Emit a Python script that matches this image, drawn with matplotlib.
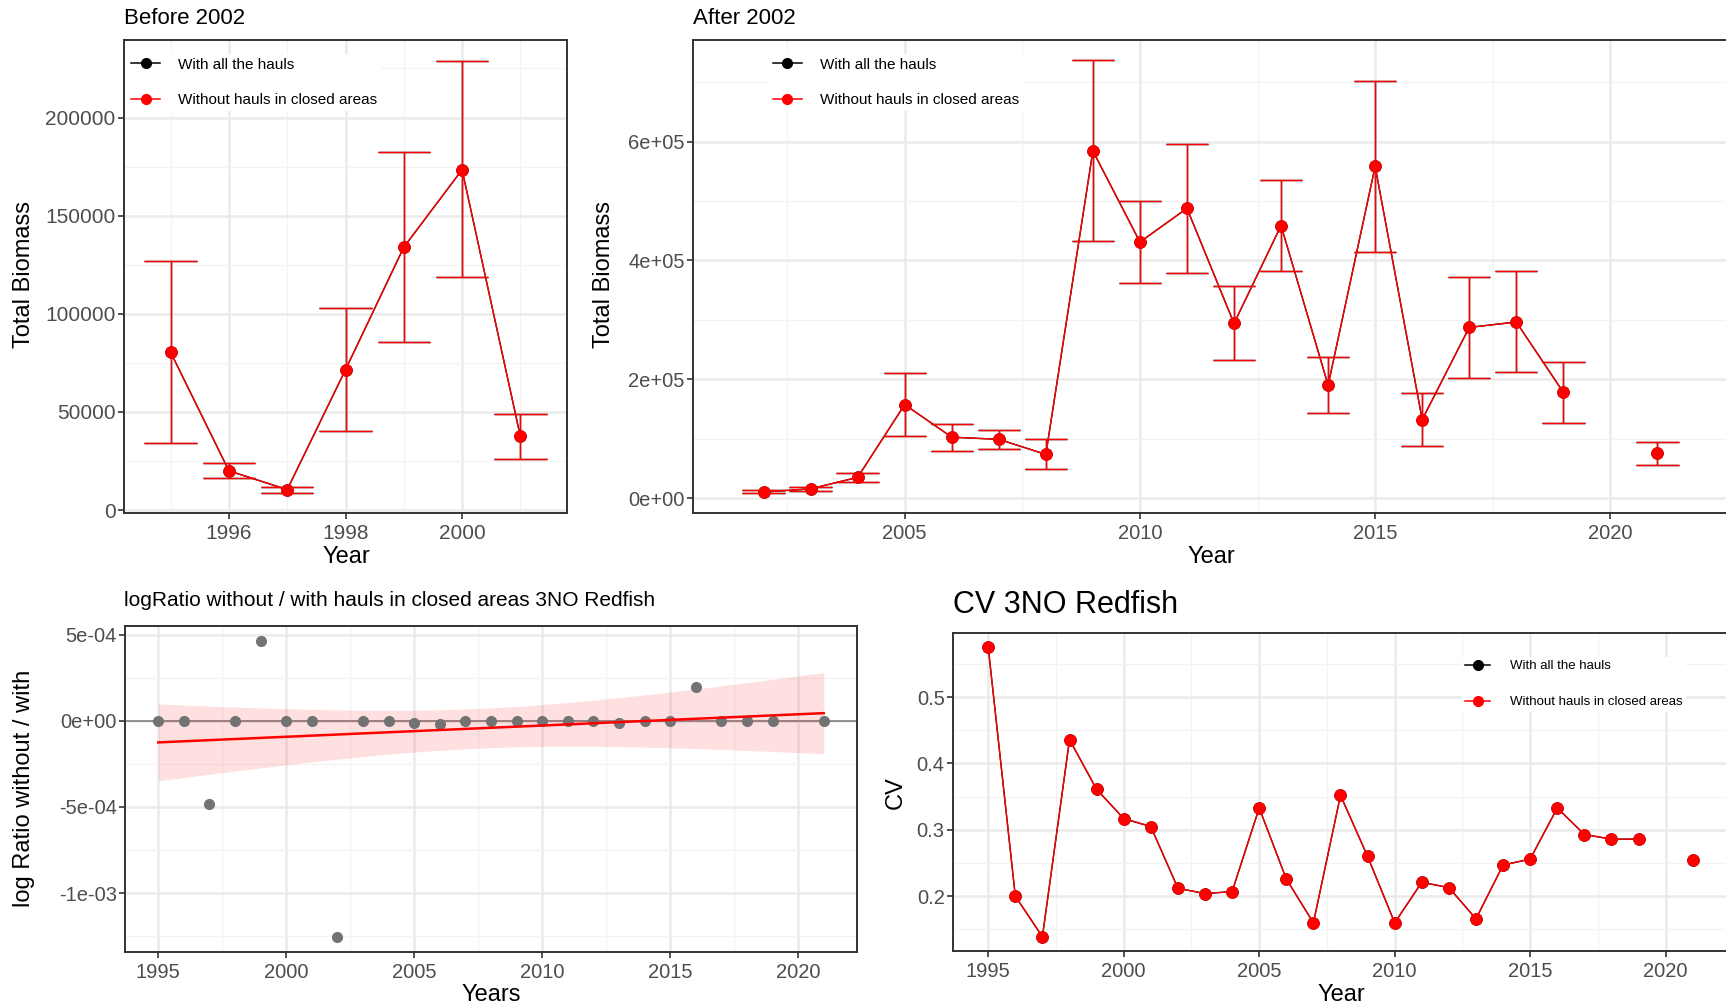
import numpy as np
import matplotlib.pyplot as plt
from matplotlib.lines import Line2D
from matplotlib.ticker import MultipleLocator, FuncFormatter

plt.rcParams['font.family'] = ['Liberation Sans', 'DejaVu Sans']

W, H = 1726, 1008

# --- data ---
years_before = np.arange(1995, 2002)
biomass_before = [80400, 20000, 10400, 71500, 133900, 173400, 37500]
upper_before = [127000, 24000, 11800, 102800, 182500, 228600, 49100]
lower_before = [34400, 16200, 8900, 40400, 85500, 118600, 26000]

years_after = np.arange(2002, 2022)
biomass_after = [10300, 15700, 35000, 157500, 102600, 99000, 73600, 584300, 431000, 487700,
                 294000, 458700, 190100, 558300, 132200, 287300, 296400, 178100, np.nan, 75500]
upper_after = [13300, 19300, 42300, 210700, 125500, 114700, 100200, 737000, 500400, 595800,
               356700, 536000, 237800, 702000, 176300, 372400, 381500, 229400, np.nan, 94200]
lower_after = [8500, 12100, 27800, 105000, 79700, 82700, 48300, 432200, 361600, 379700,
               231800, 381500, 143700, 414700, 88100, 202800, 211900, 126800, np.nan, 55500]

years_ratio = list(range(1995, 2020)) + [2021]
log_ratio = [0, 0, -4.81e-4, 0, 4.65e-4, 0, 0, -1.256e-3, 0, 0,
             -1.2e-5, -1.9e-5, 0, 0, 0, 0, 0, 0, -1.2e-5, 0,
             0, 1.98e-4, 0, 0, 0, 0]

years_cv = np.arange(1995, 2022)
cv_values = [0.575, 0.200, 0.139, 0.436, 0.361, 0.317, 0.305, 0.212, 0.204, 0.207,
             0.333, 0.226, 0.160, 0.352, 0.260, 0.160, 0.221, 0.213, 0.166, 0.247,
             0.256, 0.333, 0.293, 0.286, 0.286, np.nan, 0.255]

series_labels = ['With all the hauls', 'Without hauls in closed areas']
RED = '#FF0000'
GRID_MAJOR = '#EBEBEB'
GRID_MINOR = '#F3F3F3'


def add_axes_px(fig, left, top, right, bottom):
    return fig.add_axes([left / W, 1 - bottom / H, (right - left) / W, (bottom - top) / H])


def style_axes(ax, xmaj, xmin, ymaj, ymin, labelsize=14.5):
    ax.set_facecolor('white')
    for sp in ax.spines.values():
        sp.set_color('#333333')
        sp.set_linewidth(1.4)
    ax.xaxis.set_major_locator(MultipleLocator(xmaj))
    ax.xaxis.set_minor_locator(MultipleLocator(xmin))
    ax.yaxis.set_major_locator(MultipleLocator(ymaj))
    ax.yaxis.set_minor_locator(MultipleLocator(ymin))
    ax.grid(which='major', color=GRID_MAJOR, lw=1.8)
    ax.grid(which='minor', color=GRID_MINOR, lw=0.9)
    ax.set_axisbelow(True)
    ax.tick_params(which='major', length=4, width=1.2, color='#333333',
                   labelcolor='#4D4D4D', labelsize=labelsize, pad=2)
    ax.tick_params(axis='x', which='major', pad=4)
    ax.tick_params(which='minor', length=0)


def fig_text(fig, x, y, s, **kw):
    fig.text(x / W, 1 - y / H, s, va='center', **kw)


def draw_errorbars(ax, x, y, lo, hi, color, z):
    x = np.asarray(x, float)
    y = np.asarray(y, float)
    lo = np.asarray(lo, float)
    hi = np.asarray(hi, float)
    ok = ~np.isnan(y)
    ax.vlines(x[ok], lo[ok], hi[ok], color=color, lw=1.0, zorder=z)
    ax.hlines(lo[ok], x[ok] - 0.45, x[ok] + 0.45, color=color, lw=1.0, zorder=z)
    ax.hlines(hi[ok], x[ok] - 0.45, x[ok] + 0.45, color=color, lw=1.0, zorder=z)
    ax.plot(x, y, '-', color=color, lw=1.0, zorder=z)
    ax.plot(x[ok], y[ok], 'o', color=color, ms=8, zorder=z + 0.5)


def add_legend(ax, anchor, fontsize, spacing, textpad=1.2):
    handles = [Line2D([], [], color='black', marker='o', ms=7, lw=1.1),
               Line2D([], [], color=RED, marker='o', ms=7, lw=1.1)]
    leg = ax.legend(handles, series_labels, loc='upper left', bbox_to_anchor=anchor,
                    frameon=True, facecolor='white', edgecolor='none', framealpha=1,
                    fontsize=fontsize, handlelength=1.9, handletextpad=textpad,
                    labelspacing=spacing, borderpad=0.25, fancybox=False)
    leg.set_zorder(10)


sci = FuncFormatter(lambda v, p: f'{v:.0e}')

fig = plt.figure(figsize=(W / 100, H / 100), dpi=100)

# --- Before 2002 ---
ax1 = add_axes_px(fig, 124, 40, 567, 513)
style_axes(ax1, 2, 1, 50000, 25000, labelsize=15)
draw_errorbars(ax1, years_before, biomass_before, lower_before, upper_before, 'black', 3)
draw_errorbars(ax1, years_before, biomass_before, lower_before, upper_before, RED, 4)
ax1.set_xlim(1994.2, 2001.8)
ax1.set_ylim(-1500, 239500)
add_legend(ax1, (-0.01, 0.987), 11, 1.42)
fig_text(fig, 124, 18, 'Before 2002', fontsize=16, ha='left')
fig_text(fig, 346, 557, 'Year', fontsize=17, ha='center')
fig_text(fig, 24, 275, 'Total Biomass', fontsize=17, ha='center', rotation=90)

# --- After 2002 ---
ax2 = add_axes_px(fig, 693, 40, 1728, 513)
style_axes(ax2, 5, 2.5, 200000, 100000)
ax2.yaxis.set_major_formatter(sci)
draw_errorbars(ax2, years_after, biomass_after, lower_after, upper_after, 'black', 3)
draw_errorbars(ax2, years_after, biomass_after, lower_after, upper_after, RED, 4)
ax2.set_xlim(2000.5, 2022.5)
ax2.set_ylim(-25000, 771000)
add_legend(ax2, (0.066, 0.987), 11, 1.42)
fig_text(fig, 693, 18, 'After 2002', fontsize=16, ha='left')
fig_text(fig, 1211, 557, 'Year', fontsize=17, ha='center')
fig_text(fig, 604, 275, 'Total Biomass', fontsize=17, ha='center', rotation=90)

# --- log ratio ---
ax3 = add_axes_px(fig, 125, 626, 857, 952)
style_axes(ax3, 5, 2.5, 5e-4, 2.5e-4)
ax3.yaxis.set_major_formatter(sci)
ax3.axhline(0, color='#808080', lw=1.2, zorder=2)
xr = np.asarray(years_ratio, float)
yr = np.asarray(log_ratio, float)
slope, intercept = np.polyfit(xr, yr, 1)
xs = np.linspace(xr.min(), xr.max(), 200)
fit = slope * xs + intercept
resid = yr - (slope * xr + intercept)
n = len(xr)
sigma = np.sqrt(np.sum(resid ** 2) / (n - 2))
se = sigma * np.sqrt(1 / n + (xs - xr.mean()) ** 2 / np.sum((xr - xr.mean()) ** 2))
t_crit = 2.064  # t(0.975, df=24)
ax3.fill_between(xs, fit - t_crit * se, fit + t_crit * se, color=RED, alpha=0.12, lw=0, zorder=3)
ax3.plot(xr, yr, 'o', color='#737373', ms=7, zorder=4)
ax3.plot(xs, fit, color=RED, lw=1.8, zorder=5)
ax3.set_xlim(1993.7, 2022.3)
ax3.set_ylim(-1.342e-3, 5.51e-4)
fig_text(fig, 124, 601, 'logRatio without / with hauls in closed areas 3NO Redfish', fontsize=15, ha='left')
fig_text(fig, 491, 995, 'Years', fontsize=17, ha='center')
fig_text(fig, 24, 788, 'log Ratio without / with', fontsize=17, ha='center', rotation=90)

# --- CV ---
ax4 = add_axes_px(fig, 953, 633, 1728, 951)
style_axes(ax4, 5, 2.5, 0.1, 0.05)
ax4.plot(years_cv, cv_values, '-o', color='black', lw=1.0, ms=8, zorder=3)
ax4.plot(years_cv, cv_values, '-o', color=RED, lw=1.0, ms=8, zorder=4)
ax4.set_xlim(1993.7, 2022.3)
ax4.set_ylim(0.1175, 0.5966)
add_legend(ax4, (0.648, 0.946), 9.5, 1.8, textpad=1.5)
fig_text(fig, 953, 605, 'CV 3NO Redfish', fontsize=22, ha='left')
fig_text(fig, 1341, 995, 'Year', fontsize=17, ha='center')
fig_text(fig, 896, 793, 'CV', fontsize=17, ha='center', rotation=90)

fig.savefig('out.png', dpi=100, facecolor='white')
